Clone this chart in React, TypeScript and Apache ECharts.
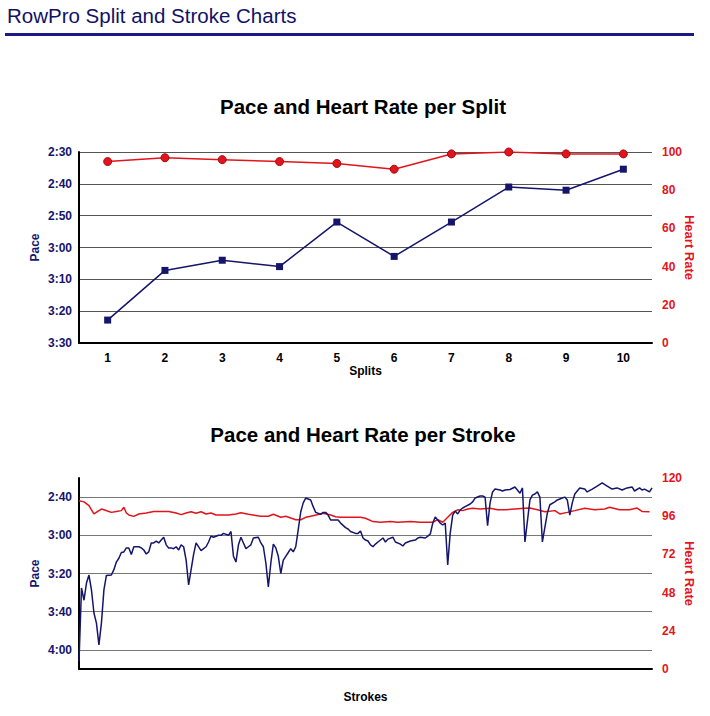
import React, { useEffect, useRef } from "react";
import * as echarts from "echarts";

// ---- Data ----
const splitCategories = ["1", "2", "3", "4", "5", "6", "7", "8", "9", "10"];
const splitPace = [202.8, 187.2, 184, 186, 172, 182.8, 172, 161, 162, 155.4]; // seconds per 500m
const splitHeartRate = [95, 97, 96, 95, 94, 91, 99, 100, 99, 99];

const strokePaceIdx = [
  0, 1, 2, 3, 4, 5, 6, 7, 8, 9, 10, 11, 13, 14, 15, 16, 17, 18, 19, 20, 21, 22, 24, 25, 26, 27, 28, 29, 30, 31,
  32, 33, 34, 35, 36, 37, 38, 39, 40, 41, 42, 43, 44, 45, 46, 47, 49, 51, 52, 53, 54, 56, 57, 58, 60, 61, 62, 63,
  64, 65, 66, 67, 68, 69, 70, 72, 73, 74, 75, 76, 77, 78, 79, 80, 81, 82, 83, 84, 85, 86, 87, 88, 89, 90, 91, 93,
  94, 95, 97, 98, 99, 100, 101, 103, 104, 105, 107, 108, 109, 111, 112, 113, 114, 115, 116, 117, 118, 119, 120,
  122, 123, 124, 126, 127, 129, 130, 131, 132, 133, 135, 136, 137, 139, 140, 141, 142, 143, 144, 145, 146, 147,
  148, 149, 150, 151, 152, 153, 154, 155, 157, 158, 159, 161, 162, 163, 164, 165, 166, 167, 169, 170, 171, 173,
  175, 177, 178, 179, 181, 182, 183, 184, 185, 186, 188, 189, 191, 192, 194, 195, 196, 197, 198, 199, 201, 203,
  204, 206, 208, 210, 212, 214, 216, 218, 220, 222, 223, 225, 226, 227, 229, 230,
];
const strokePace = [
  246, 207.6, 214, 205, 200.8, 208.6, 220.7, 226, 237.4, 226, 208.6, 201, 200.8, 198, 194, 192, 189, 188.7, 186.6,
  186.6, 190, 186, 186, 186.6, 187.7, 189.8, 188.7, 184, 184, 183, 184, 182.5, 181, 185, 186.6, 186.6, 187, 186,
  187.7, 185, 186, 193, 206, 198, 190, 184, 188, 186, 183.5, 180.4, 181, 180, 180, 179, 180, 178, 191, 194, 185,
  181, 184, 187, 186, 185, 181.4, 181, 184, 186, 194.5, 207, 194.5, 184.6, 186.6, 191, 200, 193, 191, 189, 187,
  188.7, 186, 177, 167.8, 163, 160.5, 161.5, 165, 168, 169, 168, 168, 169.4, 172, 172, 172, 173.6, 176, 176.7, 178,
  179, 179, 177.7, 181.4, 182.5, 183, 185, 186, 184.6, 183.5, 181.4, 183.5, 182, 181, 183.5, 184.6, 185.6, 184,
  183.5, 183, 182.5, 181.4, 181, 181.4, 180.4, 179.3, 173.6, 170.4, 172, 173.6, 174.6, 173.6, 195.5, 179, 169.4,
  167.3, 168.8, 166.8, 165.7, 165, 163.6, 162.5, 160.5, 159.4, 159.4, 160, 175, 163, 157.3, 155.8, 156.3, 156.8,
  156.3, 156, 154.7, 158, 155.2, 183.5, 161.5, 159, 158.4, 157.3, 160, 183.5, 168.3, 164, 162.5, 161.5, 160.5,
  160, 161.5, 169.4, 163, 158.4, 155.2, 155.8, 157.3, 155.8, 154.2, 152.6, 154.2, 155.8, 155.2, 156.3, 155.2,
  154.7, 156.8, 155.2, 156.3, 155.8, 157.3, 155.2,
];

const strokeHrIdx = [
  0, 2, 4, 6, 8, 9, 10, 12, 13, 15, 17, 18, 19, 20, 22, 24, 27, 30, 36, 39, 41, 43, 45, 47, 49, 51, 53, 55, 60,
  63, 65, 68, 73, 76, 78, 81, 83, 85, 87, 89, 91, 93, 96, 98, 101, 103, 105, 113, 115, 118, 121, 125, 128, 133,
  137, 142, 144, 146, 148, 150, 152, 154, 156, 158, 161, 165, 168, 171, 175, 179, 181, 184, 187, 191, 193, 196,
  199, 203, 207, 211, 213, 217, 221, 224, 226, 229,
];
const strokeHeartRate = [
  105.7, 105, 102.6, 97.4, 99.5, 100.5, 100, 99, 98.4, 99, 99.5, 101.6, 98, 96.8, 95.9, 97.4, 98, 99, 99, 98, 97,
  98, 98.8, 97.8, 98.8, 97.4, 98, 96.8, 96.8, 97.4, 98.2, 97.2, 95.9, 96, 97.2, 95.3, 96, 94.9, 93.8, 93.8, 95.3,
  96, 97, 97.8, 96.8, 95.7, 95.3, 95.3, 94.7, 92.6, 92.2, 92.6, 92.2, 92.6, 92.2, 92.2, 93.8, 92.2, 95.3, 98.4,
  100, 99.5, 100.5, 101, 100.5, 101, 100, 100, 100.5, 101, 101.1, 100, 98.8, 99.5, 97.4, 98.4, 99.5, 101, 100,
  100.5, 101.6, 100, 100, 101.1, 99, 98.8,
];

const topPaceTicks = { min: 150, max: 210, interval: 10 };
const topHrTicks = { min: 0, max: 100, interval: 20 };
const bottomPaceTicks = { min: 150, max: 250, interval: 10 };
const bottomHrTicks = { min: 0, max: 120, interval: 24 };
const strokeRange = { min: 0, max: 230 };

// ---- Styling ----
const NAVY = "#15156b";
const RED = "#e3141b";
const FONT = "Liberation Sans";

function fmtPace(v: number): string {
  const m = Math.floor(v / 60);
  const s = Math.round(v - m * 60);
  return m + ":" + String(s).padStart(2, "0");
}

export default function App() {
  const ref = useRef<HTMLDivElement>(null);
  useEffect(() => {
    if (!ref.current) return;
    const chart = echarts.init(ref.current, undefined, { renderer: "svg" });
    const labelNavy = { color: NAVY, fontWeight: "bold" as const, fontSize: 12, fontFamily: FONT };
    const labelRed = { color: RED, fontWeight: "bold" as const, fontSize: 12, fontFamily: FONT };
    const option: any = {
      animation: false,
      backgroundColor: "#ffffff",
      textStyle: { fontFamily: FONT },
      graphic: [
        {
          type: "text",
          left: 7,
          top: 5,
          style: { text: "RowPro Split and Stroke Charts", fill: "#111166", font: `20.5px "${FONT}"` },
        },
        { type: "rect", shape: { x: 5, y: 33, width: 689, height: 3 }, style: { fill: "#1a1a80" } },
        {
          type: "text",
          x: 363,
          y: 106,
          style: {
            text: "Pace and Heart Rate per Split",
            fill: "#000",
            font: `bold 20.5px "${FONT}"`,
            textAlign: "center",
            textVerticalAlign: "middle",
          },
        },
        {
          type: "text",
          x: 363,
          y: 434,
          style: {
            text: "Pace and Heart Rate per Stroke",
            fill: "#000",
            font: `bold 20.5px "${FONT}"`,
            textAlign: "center",
            textVerticalAlign: "middle",
          },
        },
      ],
      grid: [
        { left: 79, top: 152, width: 573, height: 191 },
        { left: 79, top: 478, width: 573, height: 191 },
      ],
      xAxis: [
        {
          type: "category",
          gridIndex: 0,
          data: splitCategories,
          boundaryGap: true,
          name: "Splits",
          nameLocation: "middle",
          nameGap: 22,
          nameMoveOverlap: false,
          nameTextStyle: { color: "#000", fontWeight: "bold", fontSize: 12, fontFamily: FONT },
          axisLine: { lineStyle: { color: "#000", width: 2 } },
          axisTick: { show: false },
          axisLabel: { color: "#000", fontWeight: "bold", fontSize: 12, fontFamily: FONT, margin: 9 },
          splitLine: { show: false },
        },
        {
          type: "value",
          gridIndex: 1,
          min: strokeRange.min,
          max: strokeRange.max,
          name: "Strokes",
          nameLocation: "middle",
          nameGap: 22,
          nameMoveOverlap: false,
          nameTextStyle: { color: "#000", fontWeight: "bold", fontSize: 12, fontFamily: FONT },
          axisLine: { lineStyle: { color: "#000", width: 2 } },
          axisTick: { show: false },
          axisLabel: { show: false },
          splitLine: { show: false },
        },
      ],
      yAxis: [
        {
          type: "value",
          gridIndex: 0,
          inverse: true,
          ...topPaceTicks,
          name: "Pace",
          nameLocation: "middle",
          nameGap: 38,
          nameMoveOverlap: false,
          nameTextStyle: { ...labelNavy },
          axisLine: { show: true, lineStyle: { color: "#000", width: 2 } },
          axisTick: { show: false },
          axisLabel: { ...labelNavy, margin: 7, formatter: (v: number) => fmtPace(v) },
          splitLine: { show: true, lineStyle: { color: "#555", width: 1 } },
        },
        {
          type: "value",
          gridIndex: 0,
          position: "right",
          ...topHrTicks,
          name: "Heart Rate",
          nameLocation: "middle",
          nameRotate: -90,
          nameGap: 31,
          nameMoveOverlap: false,
          nameTextStyle: { ...labelRed, fontSize: 13 },
          axisLine: { show: false },
          axisTick: { show: false },
          axisLabel: { ...labelRed, margin: 10 },
          splitLine: { show: false },
        },
        {
          type: "value",
          gridIndex: 1,
          inverse: true,
          ...bottomPaceTicks,
          name: "Pace",
          nameLocation: "middle",
          nameGap: 38,
          nameMoveOverlap: false,
          nameTextStyle: { ...labelNavy },
          axisLine: { show: true, lineStyle: { color: "#000", width: 2 } },
          axisTick: { show: false },
          axisLabel: {
            ...labelNavy,
            margin: 7,
            formatter: (v: number) => ((v - 160) % 20 === 0 ? fmtPace(v) : ""),
          },
          splitLine: { show: true, lineStyle: { color: ["rgba(0,0,0,0)", "#777"], width: 1 } },
        },
        {
          type: "value",
          gridIndex: 1,
          position: "right",
          ...bottomHrTicks,
          name: "Heart Rate",
          nameLocation: "middle",
          nameRotate: -90,
          nameGap: 31,
          nameMoveOverlap: false,
          nameTextStyle: { ...labelRed, fontSize: 13 },
          axisLine: { show: false },
          axisTick: { show: false },
          axisLabel: { ...labelRed, margin: 10 },
          splitLine: { show: false },
        },
      ],
      series: [
        {
          type: "line",
          name: "Pace",
          xAxisIndex: 0,
          yAxisIndex: 0,
          data: splitPace,
          symbol: "rect",
          symbolSize: 7,
          lineStyle: { color: NAVY, width: 1.5 },
          itemStyle: { color: NAVY },
        },
        {
          type: "line",
          name: "Heart Rate",
          xAxisIndex: 0,
          yAxisIndex: 1,
          data: splitHeartRate,
          symbol: "circle",
          symbolSize: 8,
          lineStyle: { color: RED, width: 1.5 },
          itemStyle: { color: RED, borderColor: "#a00d12", borderWidth: 1 },
        },
        {
          type: "line",
          name: "Stroke Heart Rate",
          xAxisIndex: 1,
          yAxisIndex: 3,
          data: strokeHrIdx.map((s, i) => [s, strokeHeartRate[i]]),
          showSymbol: false,
          symbol: "none",
          lineStyle: { color: RED, width: 1.5 },
        },
        {
          type: "line",
          name: "Stroke Pace",
          xAxisIndex: 1,
          yAxisIndex: 2,
          data: strokePaceIdx.map((s, i) => [s, strokePace[i]]),
          showSymbol: false,
          symbol: "none",
          lineStyle: { color: NAVY, width: 1.5 },
        },
      ],
    };
    chart.setOption(option);
    return () => chart.dispose();
  }, []);
  return (
    <div
      ref={ref}
      style={{ position: "fixed", left: 0, top: 0, width: 710, height: 716, background: "#fff" }}
    />
  );
}
